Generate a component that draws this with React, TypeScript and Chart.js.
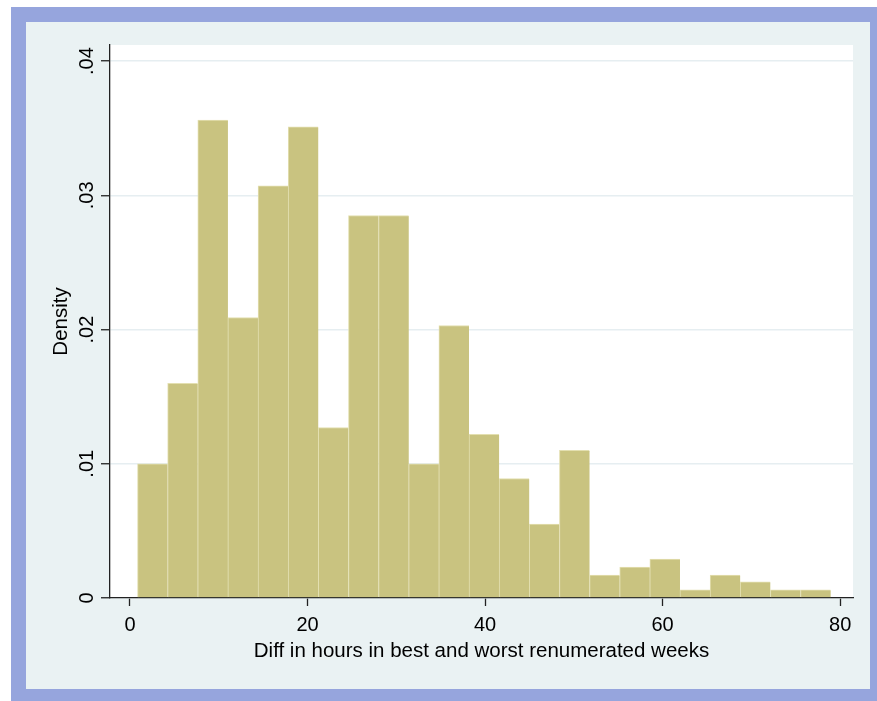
import React, { useEffect, useRef } from "react";
import { Chart, registerables } from "chart.js";

Chart.register(...registerables);

// ---- data ----
const binStart = 0.85;
const binWidth = 3.395;
const densities = [
  0.0100, 0.0160, 0.0356, 0.0209, 0.0307, 0.0351, 0.0127, 0.0285, 0.0285, 0.0100,
  0.0203, 0.0122, 0.0089, 0.0055, 0.0110, 0.0017, 0.0023, 0.0029, 0.0006, 0.0017,
  0.0012, 0.0006, 0.0006,
];
const xTickValues = [0, 20, 40, 60, 80];
const xTickLabels = ["0", "20", "40", "60", "80"];
const yTickValues = [0, 0.01, 0.02, 0.03, 0.04];
const yTickLabels = ["0", ".01", ".02", ".03", ".04"];
const xTitle = "Diff in hours in best and worst renumerated weeks";
const yTitle = "Density";

const FONT = '"Liberation Sans", Arial, Helvetica, sans-serif';

const textPlugin = {
  id: "stataText",
  afterDraw(chart: any) {
    const ctx = chart.ctx as CanvasRenderingContext2D;
    const xs = chart.scales.x;
    const ys = chart.scales.y;
    const area = chart.chartArea;
    ctx.save();
    ctx.fillStyle = "#000";
    ctx.textAlign = "center";
    ctx.textBaseline = "alphabetic";
    ctx.font = `20px ${FONT}`;
    xTickValues.forEach((v, i) => {
      ctx.fillText(xTickLabels[i], xs.getPixelForValue(v), area.bottom + 32.7);
    });
    yTickValues.forEach((v, i) => {
      ctx.save();
      ctx.translate(area.left - 17.5, ys.getPixelForValue(v));
      ctx.rotate(-Math.PI / 2);
      ctx.fillText(yTickLabels[i], 0, 0);
      ctx.restore();
    });
    ctx.font = `20.5px ${FONT}`;
    ctx.fillText(xTitle, (area.left + area.right) / 2, area.bottom + 58.7);
    ctx.save();
    ctx.translate(area.left - 42.7, (area.top + area.bottom) / 2);
    ctx.rotate(-Math.PI / 2);
    ctx.fillText(yTitle, 0, 0);
    ctx.restore();
    ctx.restore();
  },
};

export default function App() {
  const canvasRef = useRef<HTMLCanvasElement | null>(null);

  useEffect(() => {
    if (!canvasRef.current) return;
    const points = densities.map((d, i) => ({ x: binStart + (i + 0.5) * binWidth, y: d }));
    const chart = new Chart(canvasRef.current, {
      type: "bar",
      data: {
        datasets: [
          {
            data: points as any,
            backgroundColor: "#c9c380",
            borderColor: "#e3dfb0",
            borderWidth: { top: 1, left: 1, right: 0, bottom: 0 } as any,
            borderSkipped: "start",
            barPercentage: 1,
            categoryPercentage: 1,
            grouped: false,
          },
        ],
      },
      options: {
        animation: false,
        responsive: false,
        maintainAspectRatio: false,
        events: [],
        layout: { padding: { top: 23, right: 17, left: 0, bottom: 0 } },
        plugins: {
          legend: { display: false },
          tooltip: { enabled: false },
          title: { display: false },
        },
        scales: {
          x: {
            type: "linear",
            min: -2.25,
            max: 81.45,
            offset: false,
            z: 1,
            afterBuildTicks: (s: any) => {
              s.ticks = xTickValues.map((v) => ({ value: v }));
            },
            afterFit: (s: any) => {
              s.height = 91;
            },
            ticks: { display: false },
            grid: {
              display: true,
              offset: false,
              drawOnChartArea: false,
              drawTicks: true,
              tickLength: 8,
              tickColor: "#222",
              tickWidth: 1.3,
              color: "#222",
            },
            border: { display: true, color: "#222", width: 1.3 },
          },
          y: {
            type: "linear",
            min: 0,
            max: 0.0412,
            afterBuildTicks: (s: any) => {
              s.ticks = yTickValues.map((v) => ({ value: v }));
            },
            afterFit: (s: any) => {
              s.width = 84;
            },
            ticks: { display: false },
            grid: {
              display: true,
              drawTicks: true,
              tickLength: 9,
              tickColor: "#222",
              tickWidth: 1.3,
              color: "#e6eef1",
              lineWidth: 1.5,
            },
            border: { display: true, color: "#222", width: 1.3 },
          },
        },
      },
      plugins: [textPlugin],
    });
    return () => chart.destroy();
  }, []);

  return (
    <div style={{ position: "fixed", left: 0, top: 0, width: 877, height: 701, background: "#fff", overflow: "hidden" }}>
      <div style={{ position: "absolute", left: 11, top: 7, width: 866, height: 694, background: "#96a5dd" }} />
      <div style={{ position: "absolute", left: 26, top: 22, width: 844, height: 667, background: "#eaf2f3" }}>
        <div style={{ position: "absolute", left: 84, top: 23, width: 743, height: 553, background: "#fff" }} />
        <canvas ref={canvasRef} width={844} height={667} style={{ position: "absolute", left: 0, top: 0, display: "block" }} />
      </div>
    </div>
  );
}
